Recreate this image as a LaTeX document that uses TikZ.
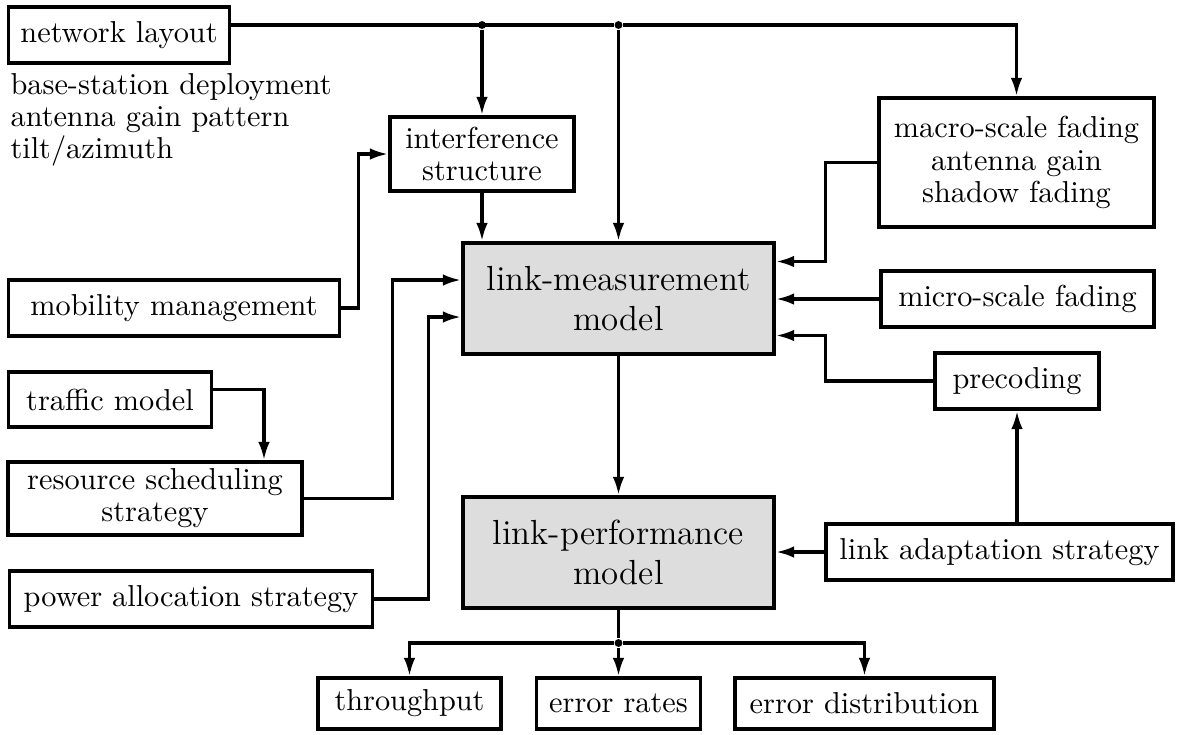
\documentclass[tikz,border=0pt]{standalone}
\usetikzlibrary{arrows.meta,calc}
\newdimen\px \px=0.33pt
\tikzset{
 box/.style={draw,line width=1.25pt,fill=white,align=center,inner sep=0,font=\fontsize{10}{10.6}\selectfont},
 modelbox/.style={box,fill=gray!27,font=\fontsize{11.5}{13.2}\selectfont},
 feed/.style={line width=1.05pt,-{Latex[length=6pt,width=3.8pt]}},
 link/.style={line width=1.05pt},
 junction/.style={circle,fill,inner sep=0,minimum size=2.6pt}
}

\begin{document}
\begin{tikzpicture}[x=0.33pt,y=-0.33pt]
\path[use as bounding box] (0,0) rectangle (1178,734);
% left column
\node[box,minimum width=221\px,minimum height=56\px] (net) at (119,35) {network layout};
\node[anchor=west,align=left,inner sep=0,font=\fontsize{10}{10.6}\selectfont] (params) at (10,120) {base-station deployment\\antenna gain pattern\\tilt/azimuth};
\node[box,minimum width=331\px,minimum height=56\px] (mob) at (174,308) {mobility management};
\node[box,minimum width=203\px,minimum height=55\px] (traf) at (110,399.5) {traffic model};
\node[box,minimum width=294\px,minimum height=73\px] (res) at (155,498.5) {resource scheduling\\strategy};
\node[box,minimum width=363\px,minimum height=56\px] (pow) at (191,599) {power allocation strategy};
% middle
\node[box,minimum width=184\px,minimum height=74\px] (intf) at (482,154) {interference\\structure};
\node[modelbox,minimum width=311\px,minimum height=111\px] (lm) at (618.5,298.5) {link-measurement\\model};
\node[modelbox,minimum width=311\px,minimum height=111\px] (lp) at (618.5,552.5) {link-performance\\model};
% right column
\node[box,minimum width=275\px,minimum height=129\px] (macro) at (1016.5,162.5) {macro-scale fading\\antenna gain\\shadow fading};
\node[box,minimum width=273\px,minimum height=56\px] (micro) at (1017.5,299) {micro-scale fading};
\node[box,minimum width=164\px,minimum height=56\px] (prec) at (1017,381) {precoding};
\node[box,minimum width=347\px,minimum height=56\px] (adapt) at (999.5,552) {link adaptation strategy};
% outputs
\node[box,minimum width=183\px,minimum height=51\px] (thr) at (409.5,703.5) {throughput};
\node[box,minimum width=164\px,minimum height=51\px] (rates) at (618.5,703.5) {error rates};
\node[box,minimum width=259\px,minimum height=51\px] (dist) at (864.5,703.5) {error distribution};
% junctions
\node[junction] (ja) at (482,25) {};
\node[junction] (jb) at (618.5,25) {};
\node[junction] (jc) at (618.5,643) {};
% connectors
\draw[link] ($(net.east)+(0,-10)$) -- (jb);
\draw[feed] (jb) -| (macro.north);
\draw[feed] (ja) -- (intf.north);
\draw[feed] (jb) -- (lm.north);
\draw[feed] (intf.south) -- (intf.south |- lm.north);
\draw[feed] (mob.east) -- ++(17,0) |- (intf.west);
\draw[feed] ($(traf.east)+(0,-10)$) -| ($(res.north)+(109,0)$);
\draw[feed] (res.east) -- ++(89,0) |- ($(lm.west)+(0,-18.5)$);
\draw[feed] (pow.east) -- ++(54,0) |- ($(lm.west)+(0,18.5)$);
\draw[feed] (macro.west) -- ++(-52,0) |- ($(lm.east)+(0,-37)$);
\draw[feed] (micro.west) -- (micro.west -| lm.east);
\draw[feed] (prec.west) -- ++(-108,0) |- ($(lm.east)+(0,37)$);
\draw[feed] (prec.south |- adapt.north) -- (prec.south);
\draw[feed] (adapt.west) -- (adapt.west -| lp.east);
\draw[feed] (lm.south) -- (lp.north);
\draw[link] (lp.south) -- (jc);
\draw[feed] (jc) -| (thr.north);
\draw[feed] (jc) -- (rates.north);
\draw[feed] (jc) -| (dist.north);
\end{tikzpicture}
\end{document}
